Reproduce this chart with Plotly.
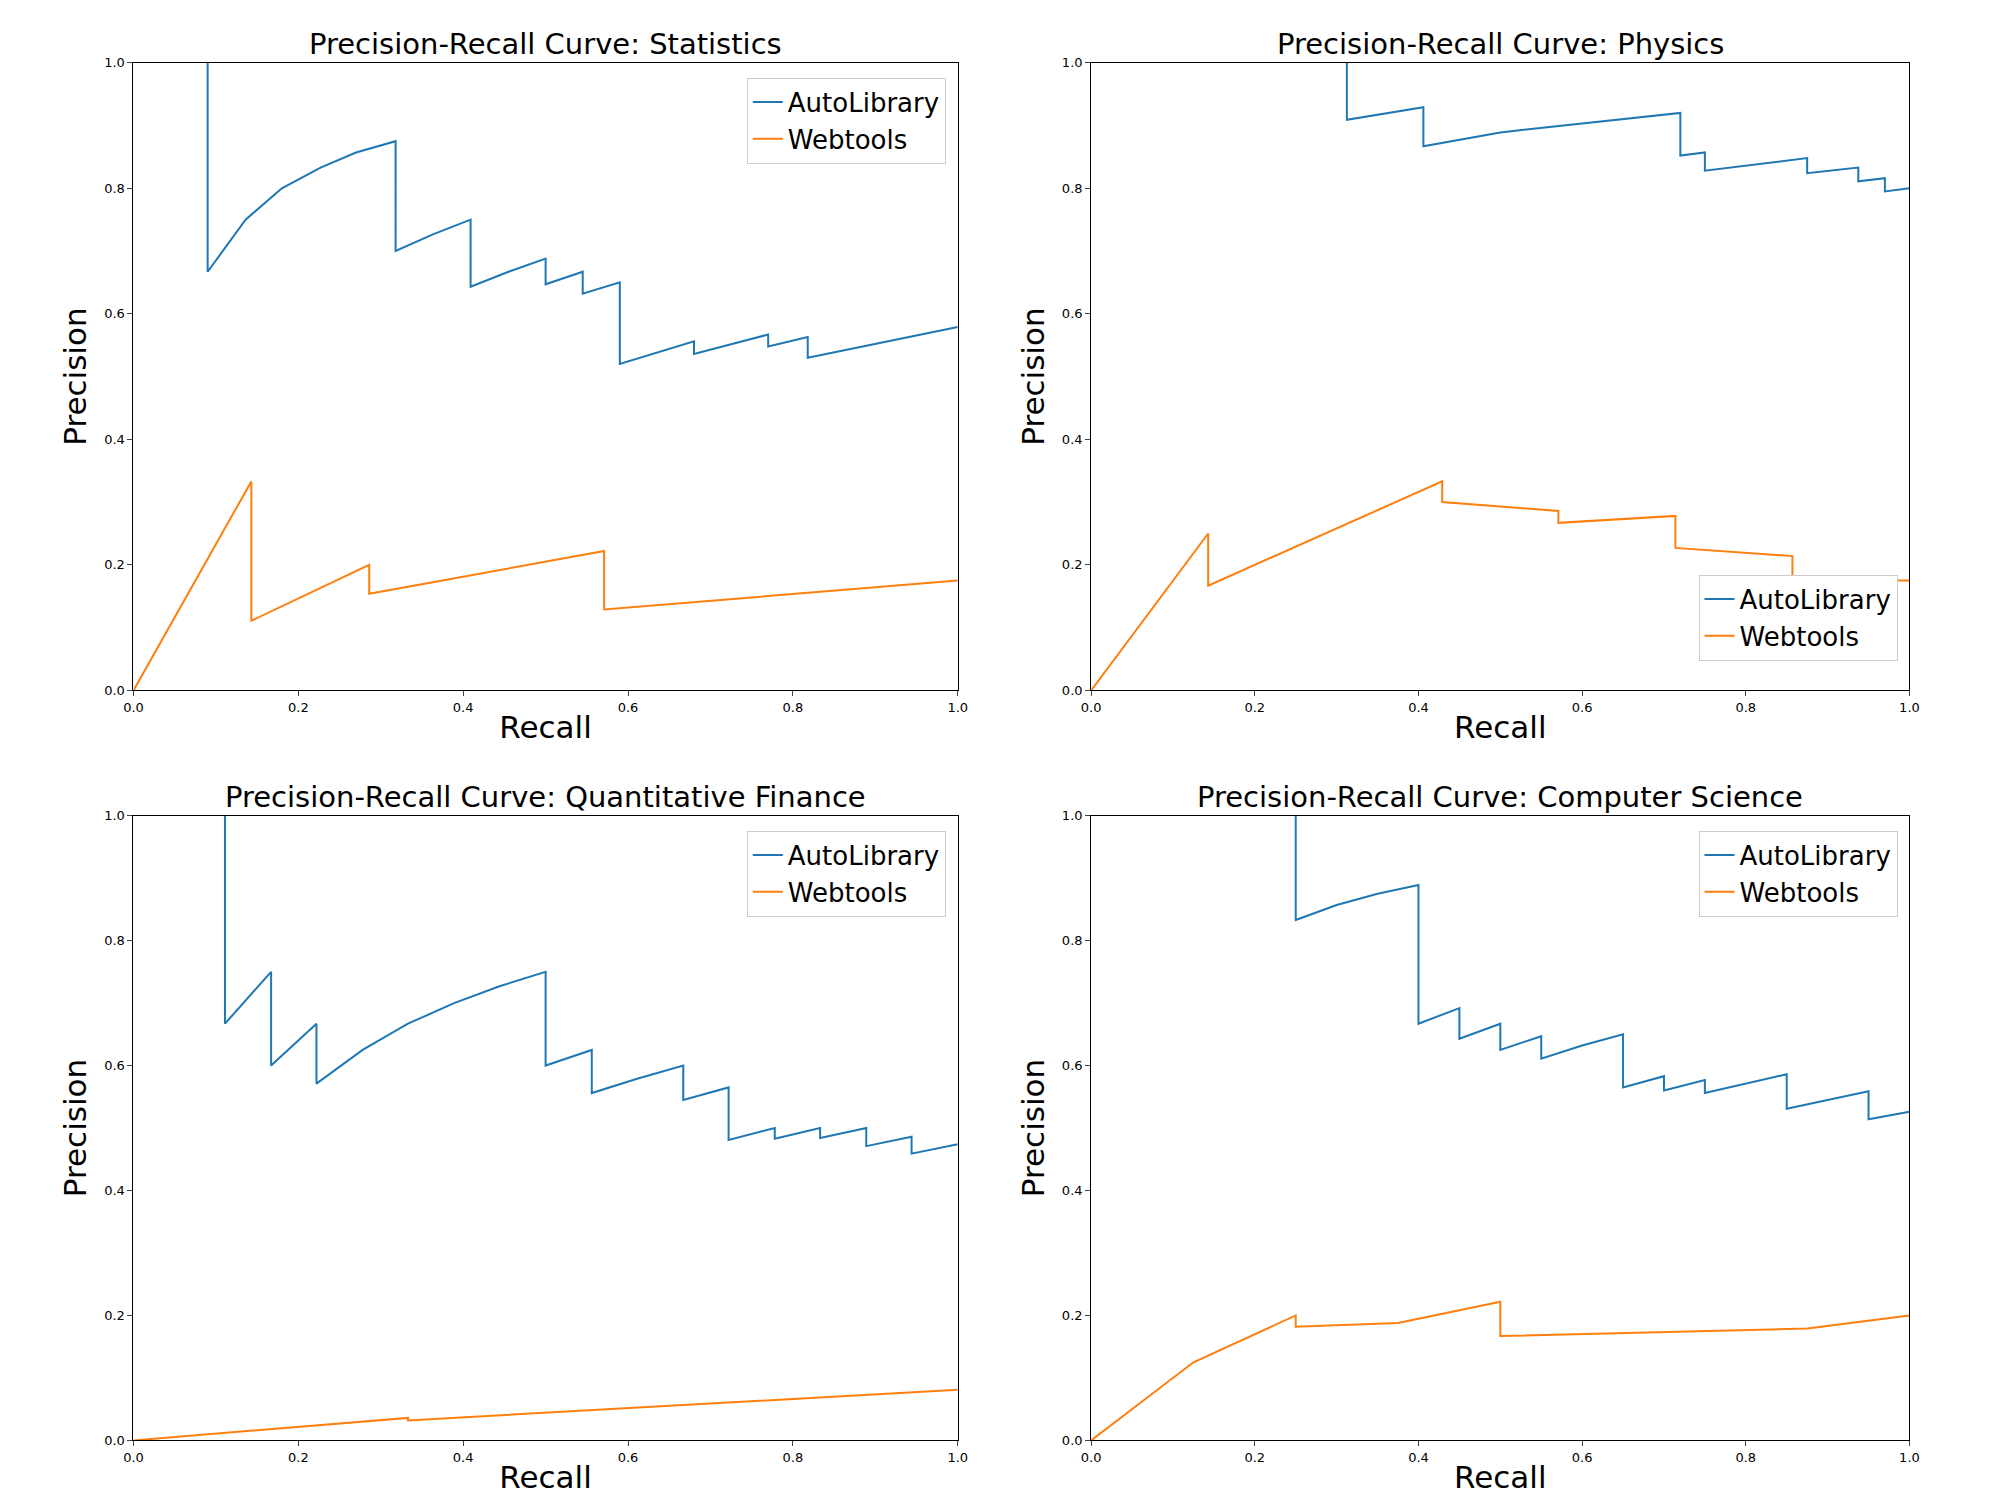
import plotly.graph_objects as go
from plotly.subplots import make_subplots

titles = ["Statistics", "Physics", "Quantitative Finance", "Computer Science"]

stat_auto_r = [0.09, 0.09, 0.136, 0.18, 0.227, 0.27, 0.318, 0.318, 0.364, 0.409, 0.409, 0.455, 0.5, 0.5, 0.545, 0.545, 0.59, 0.59, 0.68, 0.68, 0.77, 0.77, 0.818, 0.818, 1.0]
stat_auto_p = [1.0, 0.667, 0.75, 0.8, 0.833, 0.857, 0.875, 0.7, 0.727, 0.75, 0.643, 0.667, 0.688, 0.647, 0.667, 0.632, 0.65, 0.52, 0.556, 0.536, 0.567, 0.548, 0.563, 0.53, 0.579]
stat_web_r = [0, 0.143, 0.143, 0.286, 0.286, 0.571, 0.571, 1.0]
stat_web_p = [0, 0.333, 0.111, 0.2, 0.154, 0.222, 0.129, 0.175]

phys_auto_r = [0.3125, 0.3125, 0.406, 0.406, 0.5, 0.72, 0.72, 0.75, 0.75, 0.875, 0.875, 0.9375, 0.9375, 0.97, 0.97, 1.0]
phys_auto_p = [1.0, 0.909, 0.929, 0.867, 0.889, 0.92, 0.852, 0.857, 0.828, 0.848, 0.824, 0.833, 0.811, 0.816, 0.795, 0.8]
phys_web_r = [0, 0.143, 0.143, 0.429, 0.429, 0.571, 0.571, 0.714, 0.714, 0.857, 0.857, 1.0]
phys_web_p = [0, 0.25, 0.167, 0.333, 0.3, 0.286, 0.267, 0.278, 0.227, 0.214, 0.176, 0.175]

qf_auto_r = [0.111, 0.111, 0.167, 0.167, 0.222, 0.222, 0.278, 0.333, 0.389, 0.444, 0.5, 0.5, 0.556, 0.556, 0.611, 0.667, 0.667, 0.722, 0.722, 0.778, 0.778, 0.833, 0.833, 0.889, 0.889, 0.944, 0.944, 1.0]
qf_auto_p = [1.0, 0.667, 0.75, 0.6, 0.667, 0.571, 0.625, 0.667, 0.7, 0.727, 0.75, 0.6, 0.625, 0.556, 0.579, 0.6, 0.545, 0.565, 0.481, 0.5, 0.483, 0.5, 0.484, 0.5, 0.471, 0.486, 0.459, 0.474]
qf_web_r = [0, 0.333, 0.333, 1.0]
qf_web_p = [0, 0.036, 0.032, 0.081]

cs_auto_r = [0.25, 0.25, 0.3, 0.35, 0.4, 0.4, 0.45, 0.45, 0.5, 0.5, 0.55, 0.55, 0.6, 0.65, 0.65, 0.7, 0.7, 0.75, 0.75, 0.85, 0.85, 0.95, 0.95, 1.0]
cs_auto_p = [1.0, 0.833, 0.857, 0.875, 0.889, 0.667, 0.692, 0.643, 0.667, 0.625, 0.647, 0.611, 0.632, 0.65, 0.565, 0.583, 0.56, 0.577, 0.556, 0.586, 0.531, 0.559, 0.514, 0.526]
cs_web_r = [0, 0.125, 0.25, 0.25, 0.375, 0.5, 0.5, 0.875, 1.0]
cs_web_p = [0, 0.125, 0.2, 0.182, 0.188, 0.222, 0.167, 0.179, 0.2]

panels = [
    (stat_auto_r, stat_auto_p, stat_web_r, stat_web_p),
    (phys_auto_r, phys_auto_p, phys_web_r, phys_web_p),
    (qf_auto_r, qf_auto_p, qf_web_r, qf_web_p),
    (cs_auto_r, cs_auto_p, cs_web_r, cs_web_p),
]

fig = make_subplots(rows=2, cols=2)
xdom = [[0.058, 0.472], [0.539, 0.950]]
ydom = [[0.547, 0.968], [0.044, 0.463]]
font = "DejaVu Sans"

for i, (ar, ap, wr, wp) in enumerate(panels):
    row, col = i // 2 + 1, i % 2 + 1
    leg = "legend" if i == 0 else f"legend{i + 1}"
    fig.add_trace(go.Scatter(x=ar, y=ap, mode="lines", name="AutoLibrary",
                             line=dict(color="#1f77b4", width=2), legend=leg), row=row, col=col)
    fig.add_trace(go.Scatter(x=wr, y=wp, mode="lines", name="Webtools",
                             line=dict(color="#ff7f0e", width=2), legend=leg), row=row, col=col)
    ax = "" if i == 0 else str(i + 1)
    xd, yd = xdom[col - 1], ydom[row - 1]
    fig.layout["xaxis" + ax].update(domain=xd)
    fig.layout["yaxis" + ax].update(domain=yd)
    fig.add_annotation(text=f"Precision-Recall Curve: {titles[i]}", xref="paper", yref="paper",
                       x=(xd[0] + xd[1]) / 2, y=yd[1], xanchor="center", yanchor="bottom",
                       showarrow=False, font=dict(size=29, color="black", family=font))
    legy = yd[0] + 0.02 if i == 1 else yd[1] - 0.01
    fig.layout[leg] = dict(x=xd[1] - 0.006, y=legy, xanchor="right",
                           yanchor="bottom" if i == 1 else "top",
                           bgcolor="white", bordercolor="#cccccc", borderwidth=1,
                           font=dict(size=26, family=font, color="black"))

fig.update_xaxes(range=[0, 1], dtick=0.2, tickformat=".1f", showgrid=False, zeroline=False,
                 showline=True, linecolor="black", mirror=True, ticks="outside",
                 tickfont=dict(size=13, family=font, color="black"),
                 title=dict(text="Recall", font=dict(size=31, family=font, color="black"), standoff=2))
fig.update_yaxes(range=[0, 1], dtick=0.2, tickformat=".1f", showgrid=False, zeroline=False,
                 showline=True, linecolor="black", mirror=True, ticks="outside",
                 tickfont=dict(size=13, family=font, color="black"),
                 title=dict(text="Precision", font=dict(size=31, family=font, color="black"), standoff=8))

fig.update_layout(width=2011, height=1506, plot_bgcolor="white", paper_bgcolor="white",
                  margin=dict(l=0, r=0, t=0, b=0), showlegend=True)

fig.write_html("out.html")
